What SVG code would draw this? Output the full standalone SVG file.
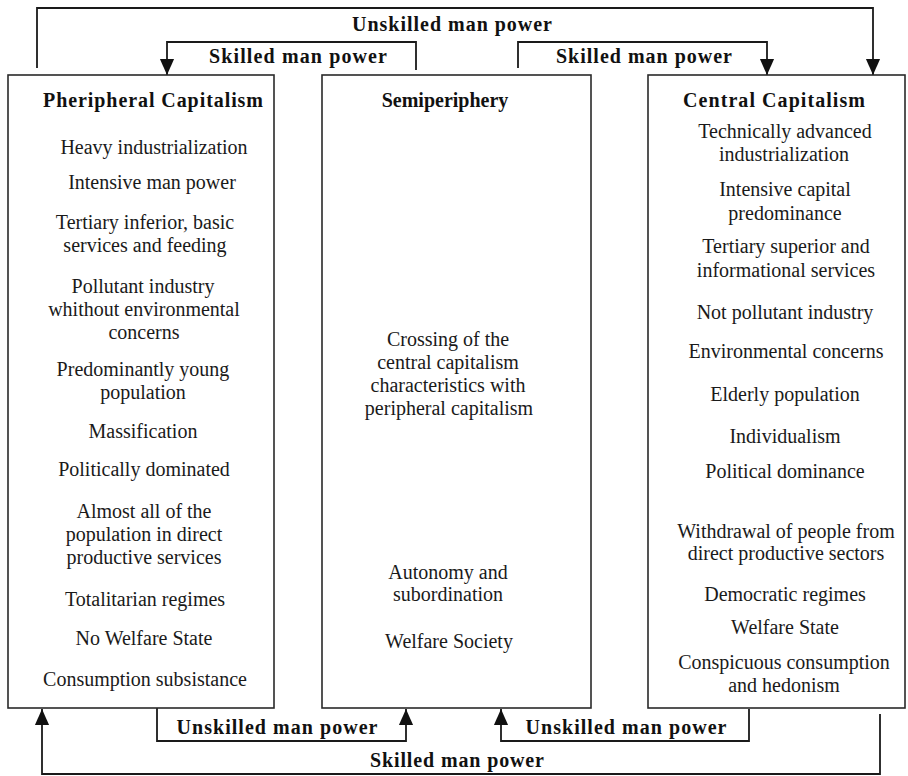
<svg xmlns="http://www.w3.org/2000/svg" width="908" height="776" viewBox="0 0 908 776">
<style>
.box{fill:#ffffff;stroke:#2a2a2a;stroke-width:1.6}
.t{font-family:"Liberation Serif","Times New Roman",serif;font-size:20px;fill:#1a1a1a;text-anchor:middle}
.h{font-family:"Liberation Serif","Times New Roman",serif;font-size:20px;font-weight:bold;fill:#111;text-anchor:middle}
.c{fill:none;stroke:#1a1a1a;stroke-width:1.8}
</style>
<defs>
<marker id="arr" markerUnits="userSpaceOnUse" markerWidth="16" markerHeight="17" refX="17" refY="7.5" orient="auto" viewBox="0 0 17 15">
<path d="M0,0 L17,7.5 L0,15 z" fill="#111"/>
</marker>
</defs>
<rect width="908" height="776" fill="#ffffff"/>

<g id="connectors">
<polyline class="c" points="37,68 37,8 873,8 873,75" marker-end="url(#arr)"/>
<polyline class="c" points="416,70 416,42 167,42 167,75" marker-end="url(#arr)"/>
<polyline class="c" points="518,68 518,42 767,42 767,75" marker-end="url(#arr)"/>
<polyline class="c" points="157,708 157,741 406,741 406,709" marker-end="url(#arr)"/>
<polyline class="c" points="749,709 749,741 501,741 501,709" marker-end="url(#arr)"/>
<polyline class="c" points="880,714 880,774 42,774 42,709" marker-end="url(#arr)"/>
<text class="h" x="452" y="31" textLength="200" lengthAdjust="spacing">Unskilled man power</text>
<text class="h" x="298" y="63" textLength="178" lengthAdjust="spacing">Skilled man power</text>
<text class="h" x="644" y="63" textLength="176" lengthAdjust="spacing">Skilled man power</text>
<text class="h" x="277" y="734" textLength="201" lengthAdjust="spacing">Unskilled man power</text>
<text class="h" x="626" y="734" textLength="201" lengthAdjust="spacing">Unskilled man power</text>
<text class="h" x="457" y="767" textLength="174" lengthAdjust="spacing">Skilled man power</text>
</g>

<g id="peripheral">
<rect class="box" x="8" y="75" width="266" height="633"/>
<text class="h" x="153" y="107" textLength="220" lengthAdjust="spacing">Pheripheral Capitalism</text>
<text class="t" x="154" y="154">Heavy industrialization</text>
<text class="t" x="152" y="189">Intensive man power</text>
<text class="t" x="145" y="229">Tertiary inferior, basic</text>
<text class="t" x="145" y="252">services and feeding</text>
<text class="t" x="143" y="293">Pollutant industry</text>
<text class="t" x="144" y="316">whithout environmental</text>
<text class="t" x="144" y="339">concerns</text>
<text class="t" x="143" y="376">Predominantly young</text>
<text class="t" x="143" y="399">population</text>
<text class="t" x="143" y="438">Massification</text>
<text class="t" x="144" y="476">Politically dominated</text>
<text class="t" x="144" y="518">Almost all of the</text>
<text class="t" x="144" y="541">population in direct</text>
<text class="t" x="144" y="564">productive services</text>
<text class="t" x="145" y="606">Totalitarian regimes</text>
<text class="t" x="144" y="645">No Welfare State</text>
<text class="t" x="145" y="686">Consumption subsistance</text>
</g>

<g id="semiperiphery">
<rect class="box" x="322" y="75" width="269" height="633"/>
<text class="h" x="445" y="107">Semiperiphery</text>
<text class="t" x="448" y="346">Crossing of the</text>
<text class="t" x="448" y="369">central capitalism</text>
<text class="t" x="448" y="392">characteristics with</text>
<text class="t" x="449" y="415">peripheral capitalism</text>
<text class="t" x="448" y="579">Autonomy and</text>
<text class="t" x="448" y="601">subordination</text>
<text class="t" x="449" y="648">Welfare Society</text>
</g>

<g id="central">
<rect class="box" x="648" y="75" width="257" height="633"/>
<text class="h" x="774" y="107" textLength="182" lengthAdjust="spacing">Central Capitalism</text>
<text class="t" x="785" y="138">Technically advanced</text>
<text class="t" x="784" y="161">industrialization</text>
<text class="t" x="785" y="196">Intensive capital</text>
<text class="t" x="785" y="220">predominance</text>
<text class="t" x="786" y="253">Tertiary superior and</text>
<text class="t" x="786" y="277">informational services</text>
<text class="t" x="785" y="319">Not pollutant industry</text>
<text class="t" x="786" y="358">Environmental concerns</text>
<text class="t" x="785" y="401">Elderly population</text>
<text class="t" x="785" y="443">Individualism</text>
<text class="t" x="785" y="478">Political dominance</text>
<text class="t" x="786" y="538">Withdrawal of people from</text>
<text class="t" x="786" y="560">direct productive sectors</text>
<text class="t" x="785" y="601">Democratic regimes</text>
<text class="t" x="785" y="634">Welfare State</text>
<text class="t" x="784" y="669">Conspicuous consumption</text>
<text class="t" x="784" y="692">and hedonism</text>
</g>
</svg>
